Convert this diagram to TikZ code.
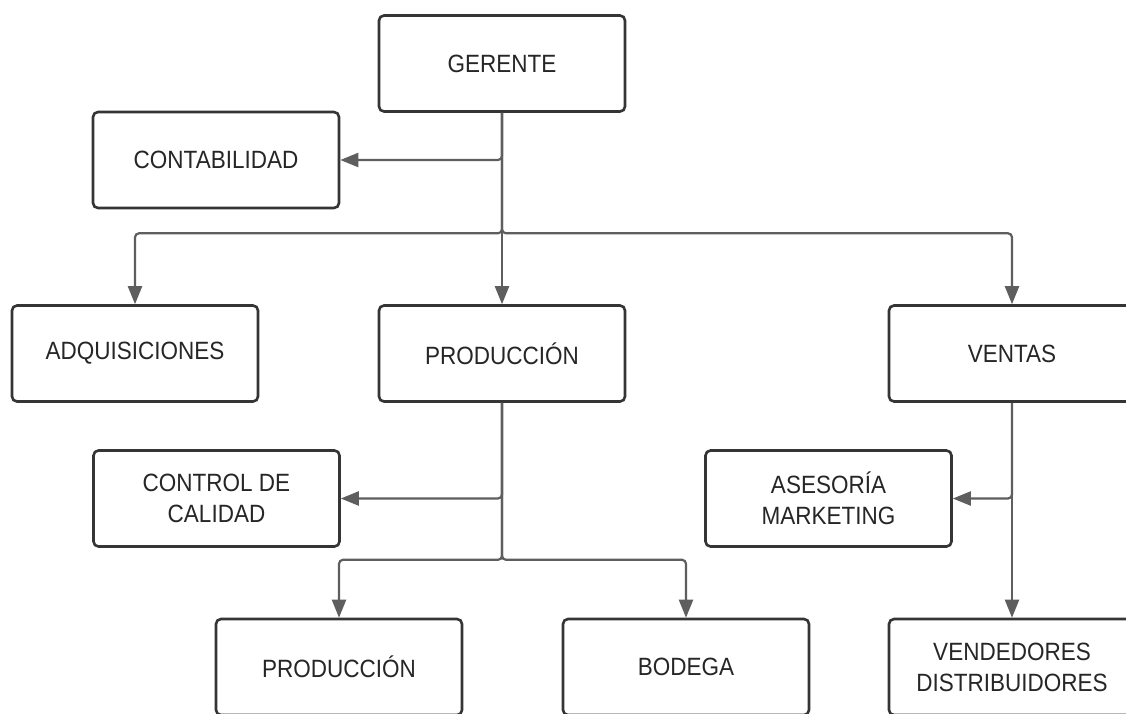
\documentclass[tikz,border=0pt]{standalone}
\usepackage{fontspec}
\setmainfont{Liberation Sans}[FakeStretch=0.9]
\usetikzlibrary{arrows.meta}
\definecolor{boxline}{HTML}{353535}
\definecolor{connline}{HTML}{5E5E5E}
\definecolor{txt}{HTML}{262626}
\begin{document}
\begin{tikzpicture}[x=1pt,y=-1pt,
  orgbox/.style={draw=boxline, line width=2.6pt, rounded corners=5pt, fill=white,
    minimum width=246pt, minimum height=96pt, inner sep=0pt, align=center,
    text=txt, font=\fontsize{25pt}{31pt}\selectfont},
  conn/.style={draw=connline, line width=2.2pt, rounded corners=4pt},
  tip/.style={-{Triangle[length=18pt,width=14pt]}}]
\useasboundingbox (0,0) rectangle (1126,713);
\clip (0,0) rectangle (1126,713);
\fill[white] (0,0) rectangle (1126,713);
% nodes
\node[orgbox] (g) at (502,63.5) {GERENTE};
\node[orgbox] (cont) at (216,160) {CONTABILIDAD};
\node[orgbox] (adq) at (135,353.5) {ADQUISICIONES};
\node[orgbox] (prod) at (502,353.5) {PRODUCCIÓN};
\node[orgbox] (ventas) at (1012,353.5) {VENTAS};
\node[orgbox] (ctrl) at (216.5,498.5) {CONTROL DE\\CALIDAD};
\node[orgbox] (ases) at (828.5,498.5) {ASESORÍA\\MARKETING};
\node[orgbox] (prod2) at (339,667) {PRODUCCIÓN};
\node[orgbox] (bod) at (686,667) {BODEGA};
\node[orgbox] (vend) at (1012,667) {VENDEDORES\\DISTRIBUIDORES};
% junctions
\coordinate (j1) at ([yshift=-120.5pt]g.south);
\coordinate (j2) at ([yshift=-157pt]prod.south);
% connectors
\draw[conn,tip] (g.south) -- (prod.north);
\draw[conn,tip] (g.south) -- (g.south |- cont.east) -- (cont.east);
\draw[conn,tip] (g.south) -- (j1) -| (adq.north);
\draw[conn,tip] (g.south) -- (j1) -| (ventas.north);
\draw[conn,tip] (prod.south) -- (prod.south |- ctrl.east) -- (ctrl.east);
\draw[conn,tip] (prod.south) -- (j2) -| (prod2.north);
\draw[conn,tip] (prod.south) -- (j2) -| (bod.north);
\draw[conn,tip] (ventas.south) -- (vend.north);
\draw[conn,tip] (ventas.south) -- (ventas.south |- ases.east) -- (ases.east);
\end{tikzpicture}
\end{document}
